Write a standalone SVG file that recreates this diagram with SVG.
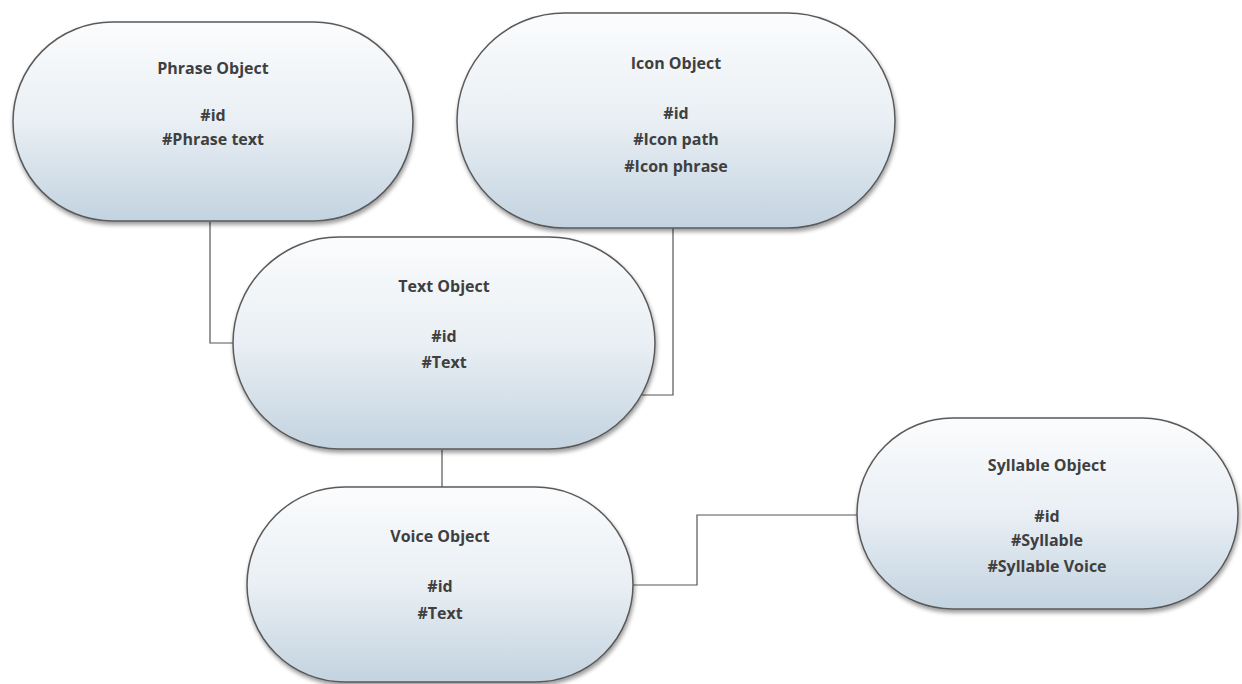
<svg xmlns="http://www.w3.org/2000/svg" width="1242" height="684" viewBox="0 0 1242 684">
<defs>
<linearGradient id="g" x1="0" y1="0" x2="0" y2="1">
<stop offset="0" stop-color="#fbfcfd"/>
<stop offset="0.5" stop-color="#e9eff4"/>
<stop offset="1" stop-color="#c3d3e0"/>
</linearGradient>
<filter id="sh" x="-5%" y="-5%" width="112%" height="115%">
<feGaussianBlur in="SourceAlpha" stdDeviation="2"/>
<feOffset dx="1" dy="3" result="b"/>
<feComponentTransfer><feFuncA type="linear" slope="0.4"/></feComponentTransfer>
<feMerge><feMergeNode/><feMergeNode in="SourceGraphic"/></feMerge>
</filter>
</defs>
<style>
.n{fill:url(#g);stroke:#5a5a5a;stroke-width:1.5;filter:url(#sh)}
.t{font-family:"Open Sans","Noto Sans",sans-serif;font-weight:bold;font-size:16px;fill:#3f3f3f;text-anchor:middle}
.c{fill:none;stroke:#555;stroke-width:1.2}
</style>
<rect width="1242" height="684" fill="#ffffff"/>
<g id="connectors">
<polyline class="c" points="210,222 210,343 234,343"/>
<polyline class="c" points="673,228 673,395 642,395"/>
<line class="c" x1="442" y1="450" x2="442" y2="487"/>
<polyline class="c" points="633,585 697,585 697,515 857,515"/>
</g>
<g id="phrase">
<rect class="n" x="13" y="22" width="400" height="199" rx="99.5"/>
<text class="t" x="213" y="74">Phrase Object</text>
<text class="t" x="213" y="121">#id</text>
<text class="t" x="213" y="145">#Phrase text</text>
</g>
<g id="icon">
<rect class="n" x="457" y="13" width="438" height="215" rx="107.5"/>
<text class="t" x="676" y="69">Icon Object</text>
<text class="t" x="676" y="119">#id</text>
<text class="t" x="676" y="145">#Icon path</text>
<text class="t" x="676" y="172">#Icon phrase</text>
</g>
<g id="text">
<rect class="n" x="233" y="237" width="422" height="212" rx="106"/>
<text class="t" x="444" y="292">Text Object</text>
<text class="t" x="444" y="342">#id</text>
<text class="t" x="444" y="368">#Text</text>
</g>
<g id="voice">
<rect class="n" x="247" y="487" width="386" height="195" rx="97.5"/>
<text class="t" x="440" y="542">Voice Object</text>
<text class="t" x="440" y="592">#id</text>
<text class="t" x="440" y="619">#Text</text>
</g>
<g id="syllable">
<rect class="n" x="857" y="418" width="381" height="191" rx="95.5"/>
<text class="t" x="1047" y="471">Syllable Object</text>
<text class="t" x="1047" y="522">#id</text>
<text class="t" x="1047" y="546">#Syllable</text>
<text class="t" x="1047" y="572">#Syllable Voice</text>
</g>
</svg>
